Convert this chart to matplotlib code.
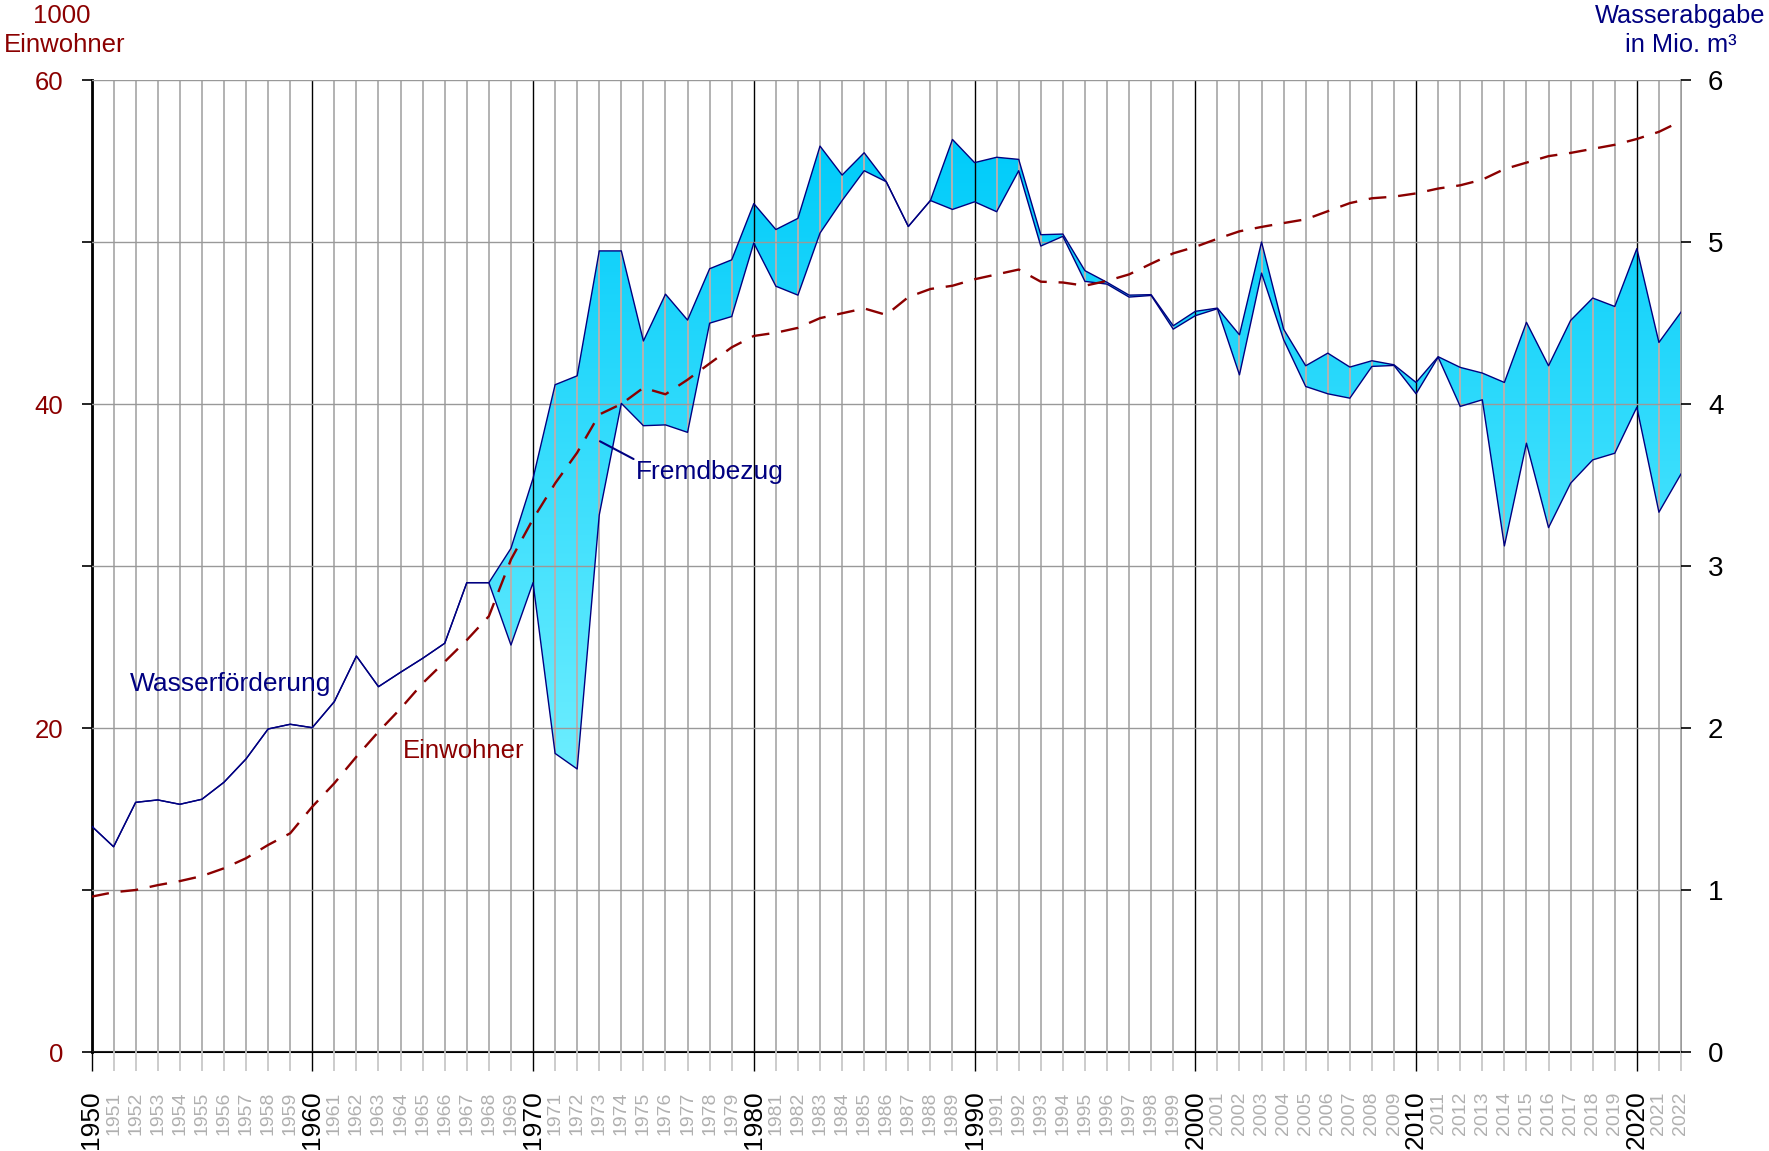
import numpy as np
import matplotlib
matplotlib.use('Agg')
import matplotlib.pyplot as plt
from matplotlib.patches import PathPatch

plt.rcParams['font.family'] = ['Liberation Sans', 'DejaVu Sans']

years = list(range(1950, 2023))

# Wasserförderung (Mio. m³)
foerderung = [1.395, 1.267, 1.541, 1.556, 1.529, 1.560, 1.665, 1.809, 1.994, 2.023,
              2.002, 2.163, 2.444, 2.255, 2.344, 2.430, 2.523, 2.897, 2.897, 2.512,
              2.897, 1.843, 1.747, 3.315, 4.004, 3.866, 3.871, 3.825, 4.499, 4.540,
              4.994, 4.727, 4.672, 5.055, 5.256, 5.440, 5.372, 5.096, 5.256, 5.201,
              5.248, 5.187, 5.440, 4.975, 5.035, 4.757, 4.740, 4.660, 4.670, 4.462,
              4.545, 4.588, 4.180, 4.808, 4.397, 4.108, 4.063, 4.036, 4.232, 4.238,
              4.063, 4.289, 3.985, 4.026, 3.124, 3.758, 3.237, 3.511, 3.655, 3.696,
              3.980, 3.332, 3.568]

# Wasserabgabe gesamt = Förderung + Fremdbezug (Mio. m³)
abgabe = [1.395, 1.267, 1.541, 1.556, 1.529, 1.560, 1.665, 1.809, 1.994, 2.023,
          2.002, 2.163, 2.444, 2.255, 2.344, 2.430, 2.523, 2.897, 2.897, 3.109,
          3.541, 4.119, 4.174, 4.945, 4.945, 4.389, 4.678, 4.518, 4.835, 4.890,
          5.237, 5.077, 5.146, 5.592, 5.413, 5.551, 5.372, 5.096, 5.256, 5.633,
          5.490, 5.523, 5.510, 5.045, 5.049, 4.823, 4.751, 4.672, 4.675, 4.483,
          4.572, 4.592, 4.427, 5.000, 4.462, 4.236, 4.314, 4.228, 4.267, 4.242,
          4.133, 4.292, 4.226, 4.191, 4.133, 4.504, 4.236, 4.516, 4.654, 4.602,
          4.959, 4.380, 4.567]

# Einwohner (1000)
einwohner = [9.59, 9.86, 10.0, 10.3, 10.55, 10.86, 11.34, 11.96, 12.78, 13.5,
             15.14, 16.59, 18.23, 19.77, 21.2, 22.76, 24.09, 25.43, 26.9, 30.4,
             32.9, 35.1, 37.0, 39.35, 40.0, 41.0, 40.6, 41.5, 42.5, 43.5,
             44.2, 44.4, 44.7, 45.3, 45.6, 45.9, 45.5, 46.6, 47.1, 47.3,
             47.7, 48.0, 48.3, 47.55, 47.5, 47.3, 47.6, 48.0, 48.66, 49.3,
             49.7, 50.2, 50.66, 50.93, 51.17, 51.4, 51.9, 52.4, 52.7, 52.8,
             53.0, 53.3, 53.5, 53.85, 54.5, 54.9, 55.3, 55.5, 55.75, 56.0,
             56.36, 56.8, 57.46]

water_ticks = [0, 1, 2, 3, 4, 5, 6]
einw_major = [0, 20, 40, 60]
einw_minor = [10, 30, 50]

NAVY = '#000080'
DARKRED = '#8b0000'

W, H = 1769, 1151
fig = plt.figure(figsize=(W / 100, H / 100), dpi=100)
x0, x1, yb, yt = 91.5, 1681, 1052, 80
ax = fig.add_axes([x0 / W, 1 - yb / H, (x1 - x0) / W, (yb - yt) / H])
ax2 = ax.twinx()

# gradient fill between Förderung and Abgabe
poly = ax.fill_between(years, foerderung, abgabe, facecolor='none', edgecolor='none')
path = poly.get_paths()[0]
patch = PathPatch(path, transform=ax.transData, facecolor='none', edgecolor='none')
ax.add_patch(patch)
yy = np.linspace(0, 6, 600)
c_top = np.array([0, 204, 250]) / 255
c_bot = np.array([110, 238, 255]) / 255
t = np.clip((yy - 1.7) / (5.6 - 1.7), 0, 1)
grad = c_bot[None, :] * (1 - t[:, None]) + c_top[None, :] * t[:, None]
img = ax.imshow(grad[:, None, :], extent=[1950, 2022, 0, 6], origin='lower',
                aspect='auto', zorder=1, interpolation='bilinear')
img.set_clip_path(patch)

ax.plot(years, foerderung, color=NAVY, lw=1.0, zorder=3)
ax.plot(years, abgabe, color=NAVY, lw=1.0, zorder=3)

ax2.plot(years, einwohner, color=DARKRED, lw=1.7, dashes=(7.5, 5), zorder=4)

ax.set_xlim(1950, 2022)
ax.set_ylim(0, 6)
ax2.set_ylim(0, 60)

# axes sides
ax.yaxis.tick_right()
ax2.yaxis.tick_left()
ax.set_axisbelow(False)

# x ticks
decades = [y for y in years if y % 10 == 0]
others = [y for y in years if y % 10 != 0]
ax.set_xticks(decades, [str(y) for y in decades])
ax.set_xticks(others, [str(y) for y in others], minor=True)
ax.tick_params(axis='x', which='major', length=13.7, width=1.0, color='black',
               labelsize=19, labelcolor='black', pad=14, labelrotation=90)
ax.tick_params(axis='x', which='minor', length=13.7, width=1.3, color='#c8c8c8',
               labelsize=14, labelcolor='#b0b0b0', pad=15, labelrotation=90)

ax.grid(which='major', axis='x', color='black', lw=1.0)
ax.grid(which='minor', axis='x', color='#b2b2b2', lw=1.4)
ax.set_yticks(water_ticks)
ax.grid(which='major', axis='y', color='#999999', lw=1.0)
ax.tick_params(axis='y', which='major', length=7.5, width=1.2, color='black',
               labelsize=20, labelcolor='black', pad=12)

ax2.set_yticks(einw_major)
ax2.set_yticks(einw_minor, minor=True)
ax2.tick_params(axis='y', which='both', length=7.5, width=1.2, color='black',
                labelsize=18.5, labelcolor=DARKRED, pad=13)

for s in ax2.spines.values():
    s.set_visible(False)
ax.spines['top'].set_visible(False)
ax.spines['left'].set_color('black')
ax.spines['left'].set_linewidth(2.0)
ax.spines['bottom'].set_color('black')
ax.spines['bottom'].set_linewidth(1.5)
ax.spines['right'].set_color('#888888')
ax.spines['right'].set_linewidth(1.2)

# labels inside plot
ax.text(1951.74, 2.23, 'Wasserförderung', color=NAVY, fontsize=19,
        ha='left', va='baseline', zorder=5)
ax.text(1964.09, 1.813, 'Einwohner', color=DARKRED, fontsize=18.5,
        ha='left', va='baseline', zorder=5)
ax.annotate('Fremdbezug', xy=(1973.03, 3.77), xytext=(1974.68, 3.534),
            color=NAVY, fontsize=19, ha='left', va='baseline', zorder=5,
            arrowprops=dict(arrowstyle='-', color=NAVY, lw=1.5,
                            shrinkA=0, shrinkB=0, relpos=(0, 1)))

# header labels
fig.text(62 / W, 1 - 22.7 / H, '1000', color=DARKRED, fontsize=18.5,
         ha='center', va='baseline')
fig.text(65 / W, 1 - 51.7 / H, 'Einwohner', color=DARKRED, fontsize=18.5,
         ha='center', va='baseline')
fig.text(1680 / W, 1 - 22.7 / H, 'Wasserabgabe', color=NAVY, fontsize=18.3,
         ha='center', va='baseline')
fig.text(1680.5 / W, 1 - 52.3 / H, 'in Mio. m³', color=NAVY, fontsize=18.3,
         ha='center', va='baseline')

fig.savefig('out.png', dpi=100)
